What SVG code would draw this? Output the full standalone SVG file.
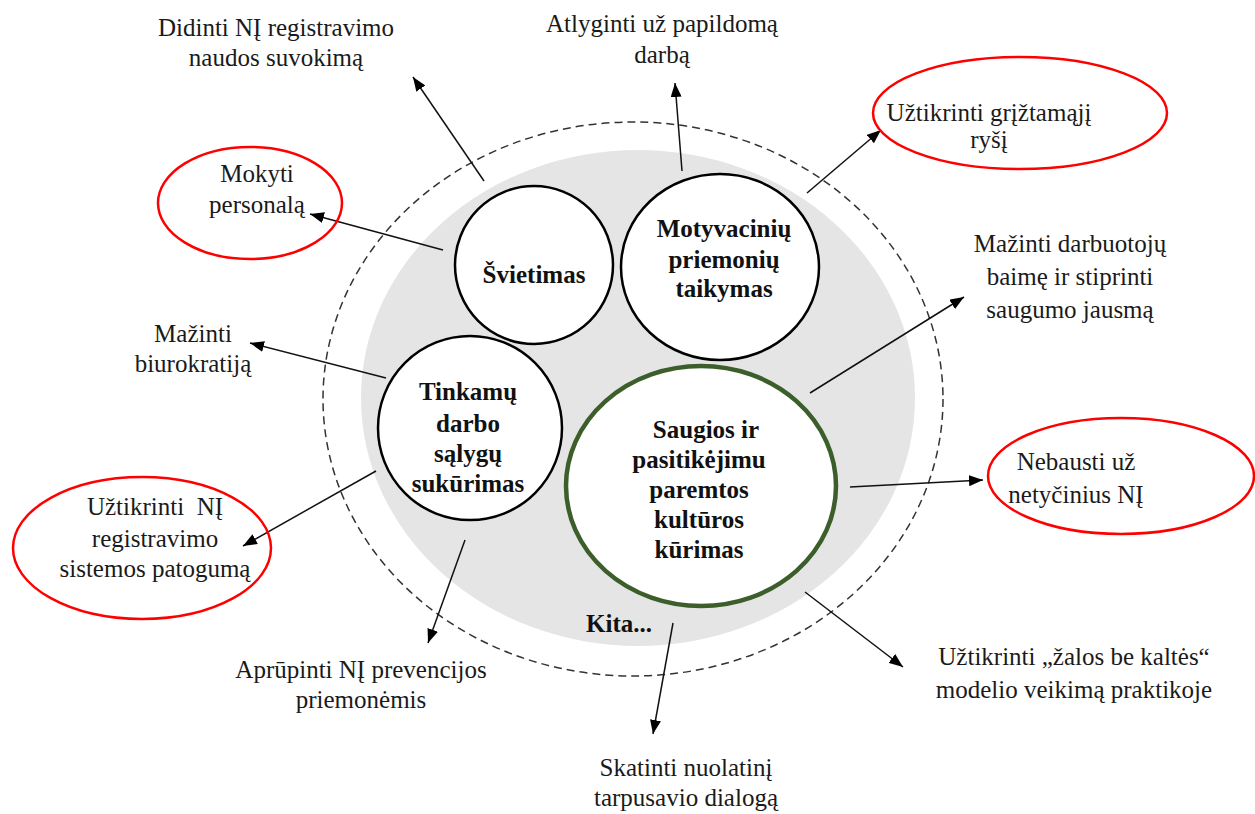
<svg xmlns="http://www.w3.org/2000/svg" width="1255" height="814" viewBox="0 0 1255 814">
<defs>
<marker id="ah" markerWidth="14" markerHeight="11" refX="14" refY="5.5" orient="auto" markerUnits="userSpaceOnUse">
<path d="M0,0 L14,5.5 L0,11 z" fill="#000"/>
</marker>
<style>
.t{font-family:"Liberation Serif","DejaVu Serif",serif;font-size:25px;fill:#1a1a1a;text-anchor:middle}
.b{font-family:"Liberation Serif","DejaVu Serif",serif;font-size:25px;font-weight:bold;fill:#111;text-anchor:middle}
.c{fill:#fff;stroke:#000;stroke-width:2.5}
.red{fill:none;stroke:#ff0000;stroke-width:2.5}
.ln{stroke:#111;stroke-width:1.5;fill:none;marker-end:url(#ah)}
</style>
</defs>
<rect width="1255" height="814" fill="#fff"/>
<g id="background">
<ellipse cx="633" cy="399" rx="310" ry="277" fill="none" stroke="#333" stroke-width="1.5" stroke-dasharray="8 5"/>
<ellipse cx="638" cy="398" rx="277" ry="248" fill="#e6e5e5"/>
</g>
<g id="connectors">
<line class="ln" x1="484" y1="181" x2="413" y2="77"/>
<line class="ln" x1="443" y1="250" x2="310" y2="214"/>
<line class="ln" x1="682" y1="171" x2="675" y2="83"/>
<line class="ln" x1="807" y1="193" x2="881" y2="130"/>
<line class="ln" x1="810" y1="393" x2="964" y2="297"/>
<line class="ln" x1="850" y1="487" x2="983" y2="480"/>
<line class="ln" x1="805" y1="592" x2="903" y2="667"/>
<line class="ln" x1="673" y1="623" x2="653" y2="734"/>
<line class="ln" x1="465" y1="540" x2="428" y2="643"/>
<line class="ln" x1="376" y1="471" x2="243" y2="546"/>
<line class="ln" x1="386" y1="378" x2="250" y2="343"/>
</g>
<g id="node-svietimas">
<circle class="c" cx="534" cy="265" r="79"/>
<text class="b" x="534" y="283">Švietimas</text>
</g>
<g id="node-motyvaciniu">
<ellipse class="c" cx="720" cy="267" rx="99" ry="93"/>
<text class="b" x="724" y="237">Motyvacinių</text>
<text class="b" x="724" y="268">priemonių</text>
<text class="b" x="724" y="297">taikymas</text>
</g>
<g id="node-tinkamu">
<circle class="c" cx="470" cy="428" r="92"/>
<text class="b" x="468" y="400">Tinkamų</text>
<text class="b" x="468" y="432">darbo</text>
<text class="b" x="468" y="462">sąlygų</text>
<text class="b" x="468" y="492">sukūrimas</text>
</g>
<g id="node-saugios">
<ellipse cx="701" cy="486" rx="135" ry="120" fill="#fff" stroke="#3b5e2b" stroke-width="4.5"/>
<text class="b" x="706" y="438">Saugios ir</text>
<text class="b" x="699" y="468">pasitikėjimu</text>
<text class="b" x="699" y="498">paremtos</text>
<text class="b" x="699" y="528">kultūros</text>
<text class="b" x="699" y="558">kūrimas</text>
</g>
<g id="node-kita">
<text class="b" x="619" y="632">Kita...</text>
</g>
<g id="label-didinti">
<text class="t" x="276" y="36">Didinti NĮ registravimo</text>
<text class="t" x="276" y="66">naudos suvokimą</text>
</g>
<g id="label-atlyginti">
<text class="t" x="662" y="32">Atlyginti už papildomą</text>
<text class="t" x="662" y="63">darbą</text>
</g>
<g id="label-griztamasis">
<ellipse class="red" cx="1020" cy="113" rx="147" ry="56"/>
<text class="t" x="989" y="121">Užtikrinti grįžtamąjį</text>
<text class="t" x="989" y="148">ryšį</text>
</g>
<g id="label-mokyti">
<ellipse class="red" cx="250" cy="203" rx="92" ry="56"/>
<text class="t" x="257" y="182">Mokyti</text>
<text class="t" x="257" y="213">personalą</text>
</g>
<g id="label-baime">
<text class="t" x="1070" y="252">Mažinti darbuotojų</text>
<text class="t" x="1070" y="285">baimę ir stiprinti</text>
<text class="t" x="1070" y="318">saugumo jausmą</text>
</g>
<g id="label-biurokratija">
<text class="t" x="193" y="342">Mažinti</text>
<text class="t" x="193" y="372">biurokratiją</text>
</g>
<g id="label-patogumas">
<ellipse class="red" cx="142" cy="548" rx="129" ry="71"/>
<text class="t" x="155" y="515" xml:space="preserve">Užtikrinti  NĮ</text>
<text class="t" x="155" y="547">registravimo</text>
<text class="t" x="155" y="577">sistemos patogumą</text>
</g>
<g id="label-aprupinti">
<text class="t" x="361" y="678">Aprūpinti NĮ prevencijos</text>
<text class="t" x="361" y="708">priemonėmis</text>
</g>
<g id="label-skatinti">
<text class="t" x="686" y="776">Skatinti nuolatinį</text>
<text class="t" x="686" y="806">tarpusavio dialogą</text>
</g>
<g id="label-zala">
<text class="t" x="1074" y="665">Užtikrinti „žalos be kaltės“</text>
<text class="t" x="1074" y="698">modelio veikimą praktikoje</text>
</g>
<g id="label-nebausti">
<ellipse class="red" cx="1121" cy="476" rx="133" ry="58"/>
<text class="t" x="1076" y="470">Nebausti už</text>
<text class="t" x="1076" y="503">netyčinius NĮ</text>
</g>
</svg>
